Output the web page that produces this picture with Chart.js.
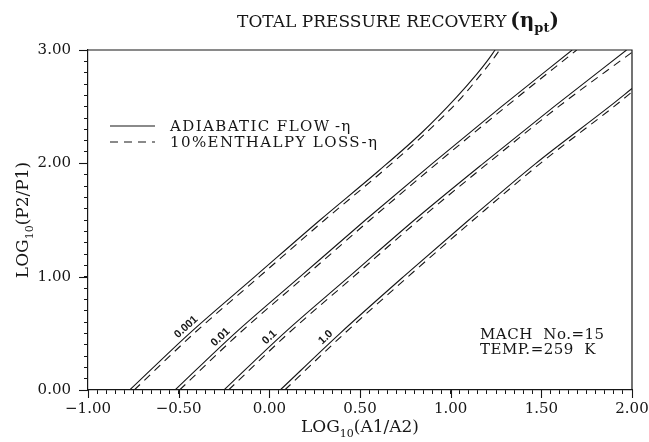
<!DOCTYPE html>
<html>
<head>
<meta charset="utf-8">
<script src="https://cdn.jsdelivr.net/npm/chart.js@4/dist/chart.umd.min.js"></script>
<style>
  html, body { margin: 0; padding: 0; background: #fff; }
  #wrap { width: 649px; height: 442px; }
</style>
</head>
<body>
<div id="wrap"><canvas id="c" width="649" height="442"></canvas></div>
<script>
// Pressure-recovery parameter for each pair of curves
const etaLabels = ['0.001', '0.01', '0.1', '1.0'];

// Adiabatic flow (solid curves): log10(A1/A2) -> log10(P2/P1)
const adiabaticX_0001 = [-0.77, -0.44, -0.08, 0.28, 0.60, 0.84, 1.03, 1.145, 1.20, 1.245];
const adiabaticY_0001 = [0.00, 0.50, 1.00, 1.50, 1.93, 2.27, 2.58, 2.79, 2.90, 3.00];
const adiabaticX_001 = [-0.52, -0.19, 0.17, 0.53, 0.90, 1.28, 1.67];
const adiabaticY_001 = [0.00, 0.50, 1.00, 1.50, 2.00, 2.50, 3.00];
const adiabaticX_01 = [-0.25, 0.08, 0.44, 0.80, 1.18, 1.57, 1.97];
const adiabaticY_01 = [0.00, 0.50, 1.00, 1.50, 2.00, 2.50, 3.00];
const adiabaticX_1 = [0.06, 0.39, 0.74, 1.10, 1.47, 1.875, 2.00];
const adiabaticY_1 = [0.00, 0.50, 1.00, 1.50, 2.00, 2.50, 2.66];

// 10% enthalpy loss (dashed curves)
const lossX_0001 = [-0.745, -0.415, -0.055, 0.305, 0.625, 0.865, 1.06, 1.17, 1.225, 1.27];
const lossY_0001 = [0.00, 0.50, 1.00, 1.50, 1.93, 2.27, 2.58, 2.79, 2.90, 3.00];
const lossX_001 = [-0.495, -0.165, 0.195, 0.555, 0.925, 1.305, 1.695];
const lossY_001 = [0.00, 0.50, 1.00, 1.50, 2.00, 2.50, 3.00];
const lossX_01 = [-0.225, 0.105, 0.465, 0.825, 1.205, 1.595, 2.00];
const lossY_01 = [0.00, 0.50, 1.00, 1.50, 2.00, 2.50, 2.98];
const lossX_1 = [0.085, 0.415, 0.765, 1.125, 1.495, 1.90, 2.00];
const lossY_1 = [0.00, 0.50, 1.00, 1.50, 2.00, 2.50, 2.63];

// Axis ranges and tick steps
const xRange = [-1.00, 2.00];
const yRange = [0.00, 3.00];
const xMajorStep = 0.5, xMinorStep = 0.05;
const yMajorStep = 1.0, yMinorStep = 0.1;

// Flow conditions printed inside the plot
const conditionLines = ['MACH  No.=15', 'TEMP.=259  K'];
const legendEntries = ['ADIABATIC FLOW\u2009-\u03b7', '10%ENTHALPY LOSS-\u03b7'];

const solidX = [adiabaticX_0001, adiabaticX_001, adiabaticX_01, adiabaticX_1];
const solidY = [adiabaticY_0001, adiabaticY_001, adiabaticY_01, adiabaticY_1];
const dashX = [lossX_0001, lossX_001, lossX_01, lossX_1];
const dashY = [lossY_0001, lossY_001, lossY_01, lossY_1];

const toPoints = (xs, ys) => xs.map((x, i) => ({ x: x, y: ys[i] }));

const INK = '#161616';
const SERIF = '"DejaVu Serif", "Liberation Serif", serif';

const datasets = [];
etaLabels.forEach((eta, i) => {
  datasets.push({
    label: 'adiabatic ' + eta,
    data: toPoints(solidX[i], solidY[i]),
    borderColor: INK, borderWidth: 1.1, pointRadius: 0,
    showLine: true, cubicInterpolationMode: 'monotone'
  });
  datasets.push({
    label: 'loss ' + eta,
    data: toPoints(dashX[i], dashY[i]),
    borderColor: INK, borderWidth: 1.1, borderDash: [8, 6], pointRadius: 0,
    showLine: true, cubicInterpolationMode: 'monotone'
  });
});

const isMultiple = (v, step) => Math.abs(v / step - Math.round(v / step)) < 1e-6;
const fmt = (v) => (v < 0 ? '\u2212' : '') + Math.abs(v).toFixed(2);

// Draws a run of text pieces, some of them lowered as subscripts
function drawRich(ctx, pieces, x, y, align) {
  let total = 0;
  pieces.forEach(p => { ctx.font = p.font; total += ctx.measureText(p.t).width + (p.gap || 0); });
  let cx = align === 'center' ? x - total / 2 : x;
  ctx.textAlign = 'left';
  ctx.textBaseline = 'alphabetic';
  pieces.forEach(p => {
    ctx.font = p.font;
    ctx.fillText(p.t, cx, y + (p.dy || 0));
    cx += ctx.measureText(p.t).width + (p.gap || 0);
  });
}

function interpX(xs, ys, y) {
  for (let i = 1; i < ys.length; i++) {
    if (y <= ys[i]) {
      const f = (y - ys[i - 1]) / (ys[i] - ys[i - 1]);
      return xs[i - 1] + f * (xs[i] - xs[i - 1]);
    }
  }
  return xs[xs.length - 1];
}

const decorations = {
  id: 'decorations',
  afterDraw(chart, args, opts) {
    const ctx = chart.ctx;
    const a = chart.chartArea;
    const xs = chart.scales.x, ys = chart.scales.y;
    ctx.save();
    ctx.strokeStyle = INK;
    ctx.fillStyle = INK;

    // frame: top and right edges
    ctx.lineWidth = 1.2;
    ctx.beginPath();
    ctx.moveTo(a.left, a.top); ctx.lineTo(a.right, a.top); ctx.lineTo(a.right, a.bottom);
    ctx.stroke();

    // longer marks at the labelled ticks
    ctx.lineWidth = 1.1;
    xs.ticks.forEach(t => {
      if (isMultiple(t.value, xMajorStep)) {
        const px = Math.round(xs.getPixelForValue(t.value)) + 0.5;
        ctx.beginPath(); ctx.moveTo(px, a.bottom); ctx.lineTo(px, a.bottom + 8); ctx.stroke();
      }
    });
    ys.ticks.forEach(t => {
      if (isMultiple(t.value, yMajorStep)) {
        const py = Math.round(ys.getPixelForValue(t.value)) + 0.5;
        ctx.beginPath(); ctx.moveTo(a.left, py); ctx.lineTo(a.left - 9, py); ctx.stroke();
      }
    });

    // title
    drawRich(ctx, [
      { t: 'TOTAL PRESSURE RECOVERY', font: '17px ' + SERIF, gap: 4 },
      { t: '(\u03b7', font: 'bold 20px ' + SERIF },
      { t: 'pt', font: 'bold 13px ' + SERIF, dy: 5 },
      { t: ')', font: 'bold 20px ' + SERIF }
    ], opts.titleX, opts.titleY, 'center');

    // x axis title
    drawRich(ctx, [
      { t: 'LOG', font: '17px ' + SERIF },
      { t: '10', font: '11px ' + SERIF, dy: 5 },
      { t: '(A1/A2)', font: '17px ' + SERIF }
    ], (a.left + a.right) / 2, opts.xTitleY, 'center');

    // y axis title
    ctx.save();
    ctx.translate(opts.yTitleX, (a.top + a.bottom) / 2);
    ctx.rotate(-Math.PI / 2);
    drawRich(ctx, [
      { t: 'LOG', font: '17px ' + SERIF },
      { t: '10', font: '11px ' + SERIF, dy: 5 },
      { t: '(P2/P1)', font: '17px ' + SERIF }
    ], 0, 0, 'center');
    ctx.restore();

    // legend
    const lg = opts.legend;
    ctx.lineWidth = 1.1;
    ctx.beginPath(); ctx.moveTo(lg.x, lg.y); ctx.lineTo(lg.x + lg.len, lg.y); ctx.stroke();
    ctx.setLineDash([8, 6]);
    ctx.beginPath(); ctx.moveTo(lg.x, lg.y + lg.dy); ctx.lineTo(lg.x + lg.len, lg.y + lg.dy); ctx.stroke();
    ctx.setLineDash([]);
    ctx.font = '15px ' + SERIF;
    ctx.textAlign = 'left';
    ctx.textBaseline = 'middle';
    ctx.letterSpacing = '1.4px';
    legendEntries.forEach((s, i) => ctx.fillText(s, lg.textX, lg.y + i * lg.dy + 1));

    // flow conditions
    ctx.font = '15px ' + SERIF;
    ctx.textBaseline = 'alphabetic';
    ctx.letterSpacing = '0.5px';
    conditionLines.forEach((s, i) => ctx.fillText(s, opts.condX, opts.condY + i * 15));
    ctx.letterSpacing = '0px';

    // eta labels written along the solid curves
    ctx.font = 'bold 11px "Liberation Sans", Arial, sans-serif';
    ctx.textAlign = 'center';
    ctx.textBaseline = 'middle';
    etaLabels.forEach((eta, i) => {
      const yv = opts.labelAt[i];
      const xv = interpX(solidX[i], solidY[i], yv);
      const x1 = interpX(solidX[i], solidY[i], yv - 0.1), x2 = interpX(solidX[i], solidY[i], yv + 0.1);
      const p1 = { x: xs.getPixelForValue(x1), y: ys.getPixelForValue(yv - 0.1) };
      const p2 = { x: xs.getPixelForValue(x2), y: ys.getPixelForValue(yv + 0.1) };
      const ang = Math.atan2(p2.y - p1.y, p2.x - p1.x);
      const px = xs.getPixelForValue(xv), py = ys.getPixelForValue(yv);
      const off = opts.labelOffset;
      ctx.save();
      ctx.translate(px + Math.sin(ang) * off, py - Math.cos(ang) * off);
      ctx.rotate(ang);
      ctx.fillText(eta, 0, 0);
      ctx.restore();
    });
    ctx.restore();
  }
};

const tickFont = { family: SERIF, size: 15 };

new Chart(document.getElementById('c'), {
  type: 'scatter',
  data: { datasets: datasets },
  plugins: [decorations],
  options: {
    responsive: false,
    animation: false,
    devicePixelRatio: 1,
    layout: { padding: { top: 50, right: 17, left: 0, bottom: 0 } },
    plugins: {
      legend: { display: false },
      tooltip: { enabled: false },
      decorations: {
        titleX: 398, titleY: 27,
        xTitleY: 432, yTitleX: 28,
        legend: { x: 110, y: 126, dy: 16, len: 45, textX: 170 },
        condX: 480, condY: 339,
        labelAt: [0.51, 0.42, 0.42, 0.42],
        labelOffset: 7
      }
    },
    scales: {
      x: {
        type: 'linear', min: xRange[0], max: xRange[1],
        afterFit: (s) => { s.height = 52; s.paddingLeft = 0; s.paddingRight = 0; },
        ticks: {
          stepSize: xMinorStep, autoSkip: false, maxTicksLimit: 1000,
          maxRotation: 0, minRotation: 0, padding: 6, color: INK, font: tickFont,
          callback: (v) => isMultiple(v, xMajorStep) ? fmt(v) : ''
        },
        grid: { drawOnChartArea: false, drawTicks: true, tickLength: 4, color: INK, lineWidth: 1 },
        border: { display: true, color: INK, width: 1.2 }
      },
      y: {
        type: 'linear', min: yRange[0], max: yRange[1],
        afterFit: (s) => { s.width = 88; s.paddingTop = 0; s.paddingBottom = 0; },
        ticks: {
          stepSize: yMinorStep, autoSkip: false, maxTicksLimit: 1000,
          padding: 13, color: INK, font: tickFont,
          callback: (v) => isMultiple(v, yMajorStep) ? fmt(v) : ''
        },
        grid: { drawOnChartArea: false, drawTicks: true, tickLength: 4, color: INK, lineWidth: 1 },
        border: { display: true, color: INK, width: 1.2 }
      }
    }
  }
});
</script>
</body>
</html>
